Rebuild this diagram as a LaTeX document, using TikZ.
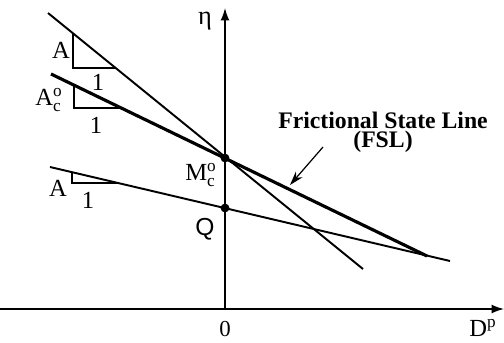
\documentclass[tikz,border=0pt]{standalone}
\usepackage{fontspec}
\setmainfont{Liberation Serif}
\newfontfamily\qfont{Liberation Sans}
\usetikzlibrary{arrows.meta,positioning,calc}

\begin{document}
\begin{tikzpicture}[
    x=0.02cm, y=-0.02cm,
    axis/.style={line width=0.8pt, -{Latex[length=7pt,width=5pt]}},
    stateline/.style={line width=#1},
    slopebox/.style={line width=0.6pt},
    lbl/.style={font=\fontsize{14}{16}\selectfont, inner sep=1pt},
    titletext/.style={font=\bfseries\fontsize{13.5}{10.8}\selectfont, align=center, inner sep=0pt},
    dot/.style={circle, fill=black, inner sep=0pt, minimum size=5pt}
]

  % Rahmen
  \useasboundingbox (0,0) rectangle (504,342);

  % =========================================================================
  % ACHSEN
  % =========================================================================
  \coordinate (xs) at (0,309);
  \coordinate (xe) at (504,309);
  \coordinate (o) at (225,309);
  \coordinate (ye) at (225,8);
  \draw[axis] (xs) -- (xe);
  \draw[axis] (o) -- (ye);

  \node[font=\fontsize{15}{16}\selectfont] (eta) at (205,21) {η};
  \node[font=\fontsize{13}{15}\selectfont] (zero) at (225,329) {0};
  \node[lbl] (dp) at (483,328) {D\textsuperscript{p}};

  % =========================================================================
  % GERADEN
  % =========================================================================
  \coordinate (a1) at (48,13);
  \coordinate (a2) at (363,269);
  \coordinate (f1) at (51,74);
  \coordinate (f2) at (427,256);
  \coordinate (s1) at (50,167);
  \coordinate (s2) at (450,261);

  \draw[stateline=1.1pt] (a1) -- (a2);
  \draw[stateline=1.8pt] (f1) -- (f2);
  \draw[stateline=1.1pt] (s1) -- (s2);

  \node[dot] (m) at (225,158) {};
  \node[dot] (q) at (225,208) {};

  % =========================================================================
  % STEIGUNGSDREIECKE
  % =========================================================================
  \draw[slopebox] (73,33) -- (73,68) -- (115,68);
  \node[lbl] (ta) at (61,50) {A};
  \node[lbl] (ta1) at (98,82) {1};

  \draw[slopebox] (74,85) -- (74,108) -- (122,108);
  \node[lbl] (tf) at (49,100) {A$^{\mathrm{o}}_{\mathrm{c}}$};
  \node[lbl] (tf1) at (96,125) {1};

  \draw[slopebox] (72,172) -- (72,183) -- (118,183);
  \node[lbl] (ts) at (58,188) {A};
  \node[lbl] (ts1) at (88,200) {1};

  % =========================================================================
  % BESCHRIFTUNG
  % =========================================================================
  \node[lbl] (ml) at (201,175) {M$^{\mathrm{o}}_{\mathrm{c}}$};
  \node[lbl, font=\qfont\fontsize{14}{16}\selectfont] (ql) at (205,229) {Q};

  \node[titletext] (fsl) at (383,132) {Frictional State Line\\(FSL)};
  \coordinate (fslend) at (290,185);
  \draw[line width=0.7pt, -{Stealth[length=8pt,width=5pt]}] (323,147) -- (fslend);

\end{tikzpicture}
\end{document}
